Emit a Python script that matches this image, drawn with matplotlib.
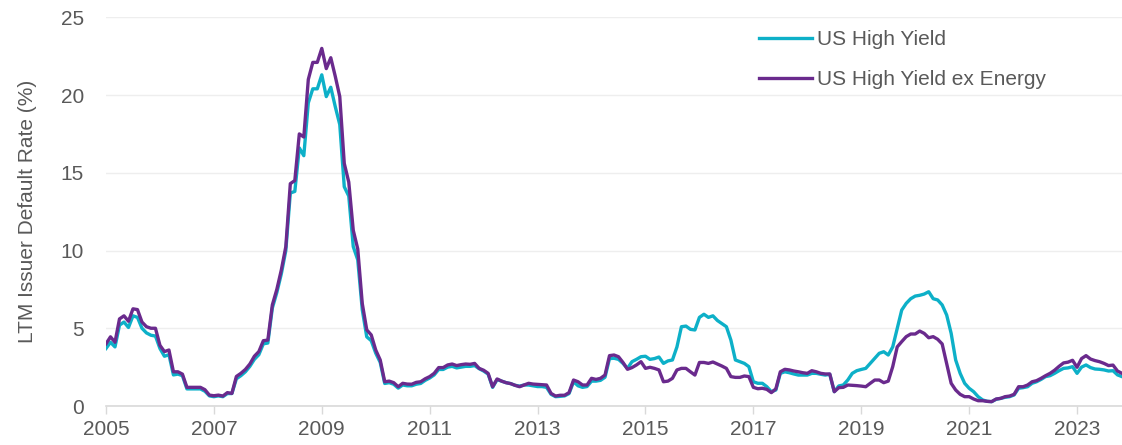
import matplotlib.pyplot as plt
import numpy as np

plt.rcParams['font.family'] = ['Liberation Sans', 'DejaVu Sans']
plt.rcParams['font.size'] = 15

# monthly LTM issuer default rates (%), Jan 2005 onward
us_hy = [
    3.7, 4.1, 3.8, 5.2, 5.4, 5.05, 5.8, 5.7, 5.0, 4.7, 4.55, 4.5,        # 2005
    3.7, 3.2, 3.3, 2.0, 2.05, 1.95, 1.1, 1.1, 1.1, 1.1, 0.95, 0.65,      # 2006
    0.6, 0.65, 0.6, 0.8, 0.8, 1.75, 1.95, 2.2, 2.55, 3.0, 3.3, 4.0,      # 2007
    4.05, 6.3, 7.3, 8.5, 10.0, 13.7, 13.8, 16.6, 16.1, 19.5, 20.4, 20.4, # 2008
    21.3, 19.9, 20.5, 19.25, 18.1, 14.1, 13.5, 10.25, 9.4, 6.2, 4.45, 4.2,  # 2009
    3.4, 2.8, 1.45, 1.5, 1.4, 1.15, 1.35, 1.3, 1.3, 1.4, 1.45, 1.65,     # 2010
    1.8, 2.0, 2.35, 2.35, 2.5, 2.55, 2.45, 2.5, 2.55, 2.55, 2.6, 2.4,    # 2011
    2.25, 2.05, 1.2, 1.7, 1.6, 1.5, 1.44, 1.33, 1.28, 1.35, 1.35, 1.3,   # 2012
    1.25, 1.25, 1.2, 0.75, 0.6, 0.62, 0.65, 0.8, 1.56, 1.3, 1.2, 1.25,   # 2013
    1.6, 1.6, 1.65, 1.85, 3.05, 3.07, 3.0, 2.74, 2.42, 2.85, 3.0, 3.17,  # 2014
    3.2, 3.0, 3.05, 3.15, 2.74, 2.9, 2.96, 3.8, 5.1, 5.14, 4.93, 4.89,   # 2015
    5.7, 5.9, 5.7, 5.8, 5.5, 5.3, 5.1, 4.24, 2.96, 2.85, 2.74, 2.53,     # 2016
    1.56, 1.46, 1.46, 1.24, 0.92, 1.03, 2.1, 2.2, 2.14, 2.06, 1.99, 1.99,  # 2017
    1.99, 2.1, 2.1, 2.04, 1.99, 2.04, 0.92, 1.29, 1.35, 1.67, 2.1, 2.27,   # 2018
    2.35, 2.42, 2.74, 3.07, 3.39, 3.49, 3.28, 3.8, 4.99, 6.17, 6.6, 6.9,   # 2019
    7.07, 7.12, 7.2, 7.35, 6.9, 6.82, 6.5, 5.85, 4.67, 2.96, 2.1, 1.46,    # 2020
    1.14, 0.92, 0.6, 0.39, 0.3, 0.28, 0.43, 0.49, 0.56, 0.6, 0.71, 1.14,   # 2021
    1.18, 1.24, 1.46, 1.56, 1.71, 1.89, 1.95, 2.1, 2.27, 2.42, 2.45, 2.53, # 2022
    2.1, 2.5, 2.64, 2.47, 2.38, 2.36, 2.32, 2.25, 2.27, 2.0, 1.89,         # 2023
]

us_hy_ex_energy = [
    4.0, 4.45, 4.1, 5.6, 5.8, 5.45, 6.25, 6.2, 5.4, 5.1, 5.0, 5.0,       # 2005
    3.9, 3.5, 3.6, 2.2, 2.2, 2.05, 1.2, 1.2, 1.2, 1.2, 1.05, 0.7,        # 2006
    0.66, 0.7, 0.64, 0.86, 0.81, 1.9, 2.1, 2.35, 2.7, 3.2, 3.5, 4.2,     # 2007
    4.24, 6.5, 7.5, 8.75, 10.25, 14.3, 14.5, 17.5, 17.3, 21.0, 22.1, 22.1,  # 2008
    23.0, 21.7, 22.4, 21.2, 19.9, 15.6, 14.4, 11.3, 10.1, 6.6, 4.9, 4.57,   # 2009
    3.6, 2.96, 1.56, 1.6, 1.5, 1.24, 1.46, 1.41, 1.4, 1.52, 1.56, 1.75,  # 2010
    1.89, 2.1, 2.47, 2.47, 2.64, 2.7, 2.6, 2.66, 2.7, 2.68, 2.74, 2.42,  # 2011
    2.3, 2.1, 1.24, 1.74, 1.6, 1.5, 1.44, 1.33, 1.24, 1.35, 1.46, 1.41,  # 2012
    1.39, 1.37, 1.35, 0.81, 0.64, 0.69, 0.69, 0.86, 1.67, 1.56, 1.35, 1.35,  # 2013
    1.78, 1.71, 1.78, 1.99, 3.24, 3.28, 3.17, 2.8, 2.36, 2.47, 2.64, 2.85,  # 2014
    2.42, 2.49, 2.42, 2.32, 1.56, 1.6, 1.78, 2.32, 2.42, 2.42, 2.2, 1.99,   # 2015
    2.8, 2.8, 2.74, 2.83, 2.7, 2.57, 2.42, 1.89, 1.84, 1.84, 1.93, 1.89,    # 2016
    1.2, 1.11, 1.14, 1.07, 0.86, 1.1, 2.2, 2.36, 2.32, 2.25, 2.2, 2.14,     # 2017
    2.1, 2.27, 2.2, 2.1, 2.06, 2.06, 0.92, 1.18, 1.2, 1.35, 1.33, 1.31,     # 2018
    1.28, 1.24, 1.46, 1.67, 1.67, 1.5, 1.6, 2.53, 3.8, 4.14, 4.46, 4.63,    # 2019
    4.63, 4.82, 4.67, 4.39, 4.46, 4.29, 3.99, 2.74, 1.46, 1.03, 0.75, 0.6,  # 2020
    0.6, 0.45, 0.34, 0.34, 0.3, 0.28, 0.45, 0.49, 0.6, 0.64, 0.75, 1.24,    # 2021
    1.24, 1.35, 1.56, 1.63, 1.78, 1.95, 2.1, 2.3, 2.55, 2.77, 2.82, 2.94,   # 2022
    2.49, 3.05, 3.24, 3.02, 2.92, 2.85, 2.74, 2.6, 2.63, 2.25, 2.1,         # 2023
]

years = np.arange(2005, 2024, 2)
dates = 2005 + np.arange(len(us_hy)) / 12

teal = '#0DB0C8'
purple = '#6A2A8D'
grey = '#595959'

fig = plt.figure(figsize=(11.22, 4.45), dpi=100)
ax = fig.add_axes([106 / 1122, 39 / 445, 1016 / 1122, 388.7 / 445])

ax.plot(dates, us_hy, color=teal, lw=2.4, label='US High Yield', zorder=2)
ax.plot(dates, us_hy_ex_energy, color=purple, lw=2.4, label='US High Yield ex Energy', zorder=3)

ax.set_xlim(2005, dates[-1])
ax.set_ylim(0, 25)
ax.set_xticks(years)
ax.set_xticklabels([str(y) for y in years])
ax.set_yticks(np.arange(0, 26, 5))

ax.grid(axis='y', color='#eeeeee', lw=1)
ax.set_axisbelow(True)
for side in ['top', 'right', 'left']:
    ax.spines[side].set_visible(False)
ax.spines['bottom'].set_color('#d9d9d9')
ax.spines['bottom'].set_linewidth(1.2)

ax.tick_params(axis='x', colors=grey, length=6, width=1, color='#d9d9d9', pad=4)
ax.tick_params(axis='y', colors=grey, length=0, pad=16)

ax.set_ylabel('LTM Issuer Default Rate (%)', color=grey)
ax.yaxis.set_label_coords(-0.068, 0.5)

fig.legend(loc='upper left', bbox_to_anchor=(759 / 1122, 1 - 30 / 445), frameon=False,
           borderpad=0, borderaxespad=0, handlelength=2.55, handletextpad=0.25,
           labelspacing=1.0, labelcolor=grey)

plt.savefig('out.png', dpi=100)
